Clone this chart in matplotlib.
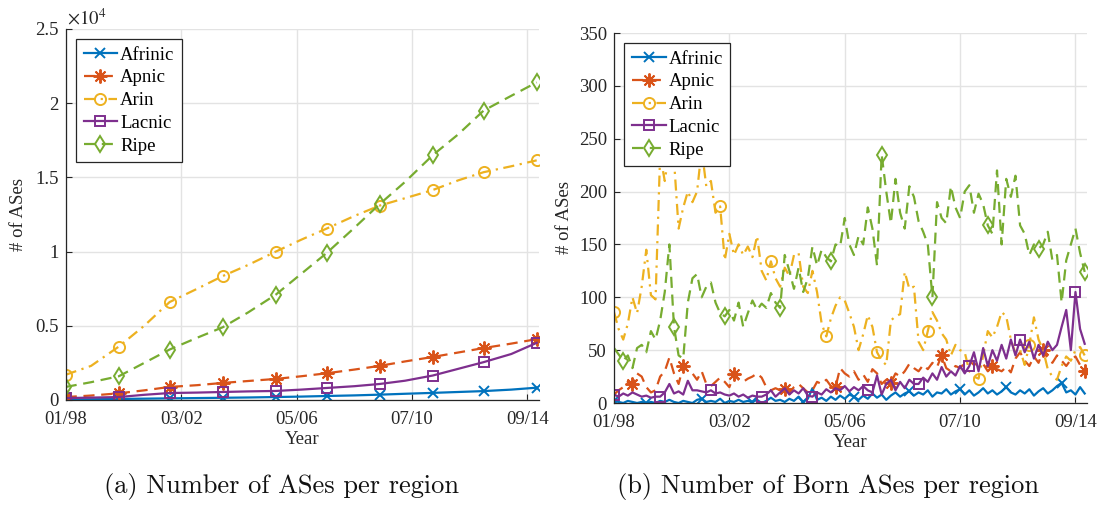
import matplotlib
matplotlib.use("Agg")
import matplotlib.pyplot as plt
from matplotlib.ticker import FuncFormatter

plt.rcParams['font.family'] = ['Liberation Serif', 'DejaVu Serif']
plt.rcParams['mathtext.fontset'] = 'stix'

# ---------------- data ----------------
regions = ["Afrinic", "Apnic", "Arin", "Lacnic", "Ripe"]
tick_months = [0, 50, 100, 150, 200]
tick_labels = ["01/98", "03/02", "05/06", "07/10", "09/14"]

# (a) cumulative number of ASes per region
months_a = [0, 11, 23, 34, 45, 57, 68, 79, 91, 102, 113, 125, 136, 147, 159, 170, 181, 193, 204]
afrinic_a = [30, 50, 70, 90, 110, 130, 150, 170, 200, 230, 270, 310, 360, 420, 480, 540, 600, 700, 830]
apnic_a = [200, 300, 450, 650, 880, 1000, 1150, 1280, 1420, 1600, 1800, 2050, 2300, 2600, 2900, 3200, 3500, 3800, 4100]
arin_a = [1700, 2300, 3600, 5000, 6600, 7500, 8350, 9100, 10000, 10800, 11550, 12400, 13100, 13600, 14150, 14800, 15350, 15750, 16150]
lacnic_a = [130, 160, 200, 350, 470, 500, 540, 580, 610, 700, 810, 930, 1080, 1300, 1650, 2100, 2550, 3100, 3850]
ripe_a = [880, 1200, 1600, 2500, 3400, 4200, 4900, 5900, 7100, 8500, 9900, 11600, 13200, 14700, 16500, 17900, 19500, 20500, 21400]

# (b) number of born ASes per region (every second month)
months_b = list(range(0, 205, 2))
afrinic_b = [2, 1, 0, 2, 1, 0, 1, 0, 1, 0, 2, 1, 3, 1, 0, 2, 1, 0, 3, 4,
             1, 2, 1, 4, 0, 2, 1, 3, 1, 2, 1, 3, 0, 2, 5, 2, 3, 1, 4, 2,
             6, 1, 4, 14, 3, 5, 2, 6, 3, 7, 4, 8, 6, 3, 7, 4, 9, 5, 8, 3,
             7, 10, 6, 9, 11, 7, 10, 8, 12, 6, 10, 9, 13, 8, 11, 13, 8, 12, 7, 10,
             14, 9, 12, 8, 11, 15, 10, 8, 12, 9, 13, 7, 11, 14, 9, 12, 16, 19, 10, 12,
             8, 15, 9]
apnic_b = [8, 12, 15, 20, 18, 28, 25, 15, 10, 12, 25, 30, 43, 28, 18, 35, 30, 28, 22, 30,
           18, 16, 20, 24, 20, 15, 27, 22, 20, 23, 25, 28, 24, 15, 12, 14, 12, 13, 10, 15,
           18, 14, 10, 12, 20, 18, 22, 16, 15, 33, 28, 25, 30, 22, 27, 20, 32, 28, 18, 22,
           19, 28, 25, 30, 37, 33, 30, 36, 32, 38, 34, 45, 33, 30, 35, 33, 38, 40, 36, 38,
           37, 30, 35, 32, 30, 34, 29, 42, 48, 40, 35, 44, 38, 50, 42, 38, 45, 40, 35, 41,
           44, 36, 30]
arin_b = [86, 70, 60, 75, 100, 85, 110, 145, 102, 98, 235, 210, 240, 230, 165, 185, 200, 190, 200, 240,
          205, 210, 180, 186, 135, 160, 140, 150, 140, 148, 138, 158, 125, 116, 134, 118, 110, 128, 120, 140,
          142, 110, 104, 125, 105, 75, 63, 80, 92, 100, 97, 85, 72, 50, 65, 83, 72, 48, 40, 36,
          78, 82, 84, 124, 108, 110, 58, 50, 68, 86, 78, 66, 60, 45, 55, 50, 48, 30, 25, 23,
          45, 68, 62, 72, 86, 82, 60, 47, 50, 36, 55, 81, 60, 50, 32, 25, 22, 35, 44, 40,
          50, 53, 45]
lacnic_b = [8, 6, 9, 7, 10, 8, 6, 7, 5, 6, 6, 10, 18, 9, 11, 8, 21, 12, 12, 11,
            10, 12, 9, 10, 8, 7, 9, 6, 8, 5, 7, 6, 6, 8, 12, 6, 10, 14, 8, 12,
            9, 14, 7, 6, 10, 8, 13, 10, 14, 12, 16, 11, 15, 12, 16, 12, 10, 26, 8, 18,
            22, 12, 20, 14, 22, 18, 18, 24, 20, 28, 22, 34, 25, 30, 26, 35, 28, 35, 48, 30,
            52, 35, 50, 40, 55, 42, 60, 45, 60, 48, 58, 42, 55, 45, 58, 50, 55, 72, 88, 50,
            105, 70, 56]
ripe_b = [52, 46, 40, 45, 33, 52, 55, 48, 68, 60, 78, 105, 150, 72, 45, 42, 95, 118, 122, 100,
          110, 114, 95, 85, 82, 88, 78, 95, 72, 85, 97, 88, 94, 90, 104, 95, 90, 140, 125, 108,
          128, 105, 118, 148, 130, 145, 138, 134, 150, 148, 175, 150, 140, 158, 150, 185, 165, 130, 235, 200,
          170, 212, 180, 165, 205, 195, 172, 162, 150, 100, 190, 175, 170, 205, 185, 175, 200, 206, 180, 198,
          188, 168, 160, 220, 150, 212, 195, 215, 168, 160, 140, 150, 146, 150, 162, 135, 140, 95, 135, 150,
          165, 142, 124]

# ---------------- styles ----------------
colors = ["#0072BD", "#D95319", "#EDB120", "#7E2F8E", "#77AC30"]
markers = ["x", (8, 2, 0), "o", "s", "d"]
styles = [dict(linestyle="-"),
          dict(linestyle=(0, (5, 3))),
          dict(linestyle=(0, (5, 2.5, 1, 2.5))),
          dict(linestyle="-"),
          dict(linestyle=(0, (5, 3)))]
msizes = [7.5, 10, 8, 7.5, 8.5]
left_mark = list(range(0, 19, 2))
right_mark = [
    [0, 7, 19, 30, 41, 52, 64, 75, 85, 97],
    [4, 15, 26, 37, 48, 60, 71, 82, 93, 102],
    [0, 12, 23, 34, 46, 57, 68, 79, 90, 102],
    [0, 10, 21, 32, 43, 55, 66, 77, 88, 100],
    [2, 13, 24, 36, 47, 58, 69, 81, 92, 102],
]

TXT = "#262626"
GRID = "#e3e3e3"
FS = 13.5

fig = plt.figure(figsize=(11.06, 5.08), dpi=100)
axA = fig.add_axes([65.7 / 1106, (508 - 400) / 508, (539 - 65.7) / 1106, 371 / 508])
axB = fig.add_axes([614 / 1106, (508 - 403) / 508, (1087 - 614) / 1106, 370 / 508])


def style_axes(ax):
    ax.set_axisbelow(True)
    ax.grid(True, color=GRID, linewidth=1.0)
    for s in ["top", "right"]:
        ax.spines[s].set_visible(False)
    for s in ["left", "bottom"]:
        ax.spines[s].set_color(TXT)
        ax.spines[s].set_linewidth(0.9)
    ax.tick_params(direction="in", length=4, width=0.8, colors=TXT,
                   labelsize=FS, pad=5)
    ax.tick_params(axis="x", pad=8)
    ax.set_xticks(tick_months)
    ax.set_xticklabels(tick_labels)
    ax.set_xlim(0, 205)
    ax.set_xlabel("Year", fontsize=FS, color=TXT, labelpad=2)
    ax.set_ylabel("# of ASes", fontsize=FS, color=TXT)


series_a = [afrinic_a, apnic_a, arin_a, lacnic_a, ripe_a]
for i, name in enumerate(regions):
    axA.plot(months_a, series_a[i], color=colors[i], marker=markers[i],
             markersize=msizes[i], markerfacecolor="none", markeredgewidth=1.4,
             linewidth=1.6, markevery=left_mark, label=name, **styles[i])
style_axes(axA)
axA.set_ylim(0, 25000)
axA.set_yticks([0, 5000, 10000, 15000, 20000, 25000])
axA.yaxis.set_major_formatter(FuncFormatter(lambda v, p: "%g" % (v / 1e4)))
axA.yaxis.labelpad = 6
axA.text(0.003, 1.0, r"$\times10^{4}$", transform=axA.transAxes, fontsize=FS,
         color=TXT, ha="left", va="bottom")

series_b = [afrinic_b, apnic_b, arin_b, lacnic_b, ripe_b]
for i, name in enumerate(regions):
    axB.plot(months_b, series_b[i], color=colors[i], marker=markers[i],
             markersize=msizes[i], markerfacecolor="none", markeredgewidth=1.4,
             linewidth=1.6, markevery=right_mark[i], label=name, **styles[i])
style_axes(axB)
axB.set_ylim(0, 350)
axB.set_yticks(range(0, 351, 50))
axB.yaxis.labelpad = 4

for ax in (axA, axB):
    leg = ax.legend(loc="upper left", bbox_to_anchor=(0.022, 0.973), borderaxespad=0,
                    fontsize=FS, frameon=True, fancybox=False, framealpha=1,
                    edgecolor=TXT, labelspacing=0.3, handlelength=1.8,
                    handletextpad=0.15, borderpad=0.4)
    leg.get_frame().set_linewidth(0.9)
    leg.set_zorder(10)

fig.text(281 / 1106, (508 - 487) / 508, "(a) Number of ASes per region",
         family="cmr10", fontsize=19, ha="center", va="center", color="#111111")
fig.text(828 / 1106, (508 - 487) / 508, "(b) Number of Born ASes per region",
         family="cmr10", fontsize=19, ha="center", va="center", color="#111111")

fig.savefig("out.png", dpi=100)
